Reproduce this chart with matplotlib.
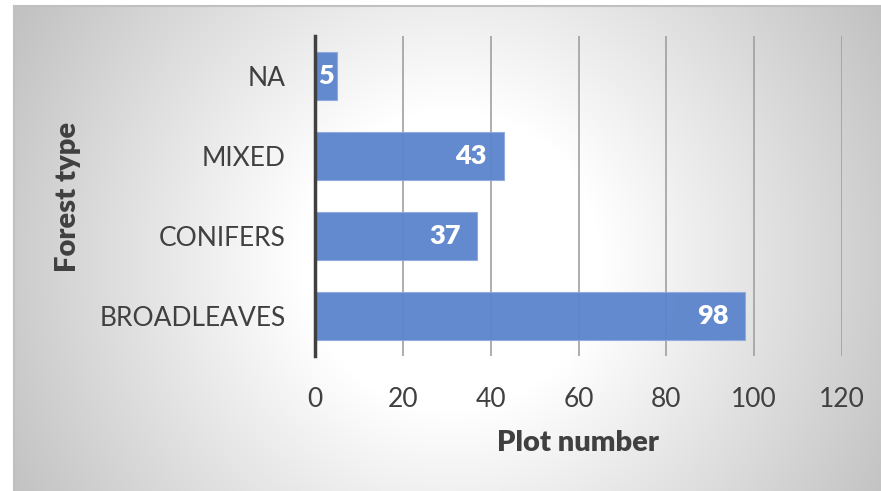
import numpy as np
import matplotlib
matplotlib.use("Agg")
from matplotlib import pyplot as plt

# data
categories = ["BROADLEAVES", "CONIFERS", "MIXED", "NA"]
plot_counts = [98, 37, 43, 5]
x_ticks = [0, 20, 40, 60, 80, 100, 120]

W, H = 881, 491
plt.rcParams['font.family'] = ['Lato', 'DejaVu Sans']
text_col = '#404040'
bar_col = '#5b84cc'

fig = plt.figure(figsize=(W / 100, H / 100), dpi=100)

# background: radial grey gradient inside a thin frame
bg = fig.add_axes([0, 0, 1, 1])
yy, xx = np.mgrid[0:H, 0:W]
d = np.sqrt((xx - 450.0) ** 2 + (yy - 260.0) ** 2)
shade = 255 - 60 * np.clip((d - 150) / 340.0, 0, 1.1)
shade[:, :14] = 255
shade[:6, :] = 255
img = np.dstack([shade, shade, shade]) / 255.0
bg.imshow(img, extent=[0, W, H, 0], aspect='auto', interpolation='bilinear')
bg.plot([14, 14], [6, H], color='#c0c0c0', lw=1.5)
bg.plot([14, W], [6, 6], color='#c0c0c0', lw=1.5)
bg.set_xlim(0, W)
bg.set_ylim(H, 0)
bg.axis('off')

ax = fig.add_axes([315 / W, 135 / H, (842 - 315) / W, 320 / H])
ax.patch.set_alpha(0)
ypos = np.arange(len(categories))
ax.barh(ypos, plot_counts, height=0.59, color=bar_col, alpha=0.95,
        edgecolor='#8eaadf', linewidth=0.8, zorder=3)
ax.set_xlim(0, 120)
ax.set_ylim(-0.5, len(categories) - 0.5)
ax.set_xticks(x_ticks)
ax.set_yticks(ypos)
ax.set_yticklabels(categories)
ax.grid(axis='x', color='#a0a0a0', lw=1.2, zorder=0)
ax.set_axisbelow(True)
for s in ['top', 'right', 'bottom']:
    ax.spines[s].set_visible(False)
ax.spines['left'].set_color('#404040')
ax.spines['left'].set_linewidth(2.5)
ax.spines['left'].set_zorder(4)
ax.tick_params(axis='both', length=0, labelsize=19, colors=text_col)
ax.tick_params(axis='x', pad=22)
ax.tick_params(axis='y', pad=21)

for y, v in zip(ypos, plot_counts):
    if v < 10:
        ax.annotate(str(v), (0, y), xytext=(3, 0), textcoords='offset pixels',
                    ha='left', va='center', color='white', fontsize=19.5,
                    fontweight='heavy', zorder=5)
    else:
        ax.annotate(str(v), (v, y), xytext=(-17, 0), textcoords='offset pixels',
                    ha='right', va='center', color='white', fontsize=19.5,
                    fontweight='heavy', zorder=5)

fig.text(578 / W, 1 - 443 / H, 'Plot number', ha='center', va='center',
         fontsize=21, fontweight='heavy', color=text_col)
fig.text(68 / W, 1 - 197 / H, 'Forest type', ha='center', va='center',
         rotation=90, fontsize=21, fontweight='heavy', color=text_col)

fig.savefig('out.png', dpi=100)
